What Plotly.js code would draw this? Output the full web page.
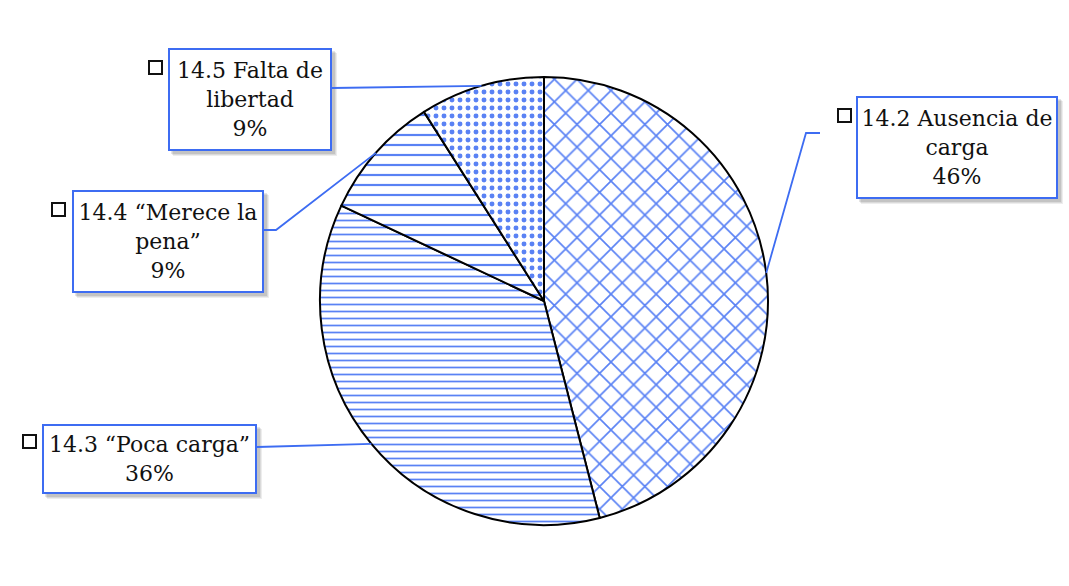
<!DOCTYPE html>
<html><head><meta charset="utf-8">
<script src="https://cdn.plot.ly/plotly-3.0.1.min.js"></script>
<style>html,body{margin:0;padding:0;background:#fff}</style>
</head><body>
<div id="chart" style="width:1069px;height:586px"></div>
<script>
const categories = ['14.2 Ausencia de<br>carga', '14.3 “Poca carga”', '14.4 “Merece la<br>pena”', '14.5 Falta de<br>libertad'];
const values = [46, 36, 9, 9];
const percentLabels = ['46%', '36%', '9%', '9%'];
const patternShapes = ['x', '-', '-', '.'];

const W = 1069, H = 586;
const px = x => x / W, py = y => 1 - y / H;
const BLUE = '#3d6cf2';

// pie geometry (layout)
const cx = 544, cy = 301, R = 224;
const domX = [px(cx - R), px(cx + R)];
const domY = [py(cy + R), py(cy - R)];

// anchor points on pie edge at slice mid-angles (from data)
const total = values.reduce((a, b) => a + b, 0);
let cum = 0;
const anchors = values.map(v => {
  const mid = (cum + v / 2) / total * 2 * Math.PI; cum += v;
  return [cx + R * Math.sin(mid), cy - R * Math.cos(mid)];
});

// label boxes (layout): [x0,y0,x1,y1]
const boxes = [[856, 96, 1058, 199], [42, 424, 257, 494], [72, 190, 264, 293], [168, 48, 332, 151]];
const keys = [[838, 109], [23, 435], [52, 203], [149, 61]];
// leader bends (layout)
const leaders = [
  a => [[a[0], a[1]], [806, 133], [820, 133]],
  a => [[257, 447], [a[0], a[1]]],
  a => [[264, 230], [276, 230], [a[0], a[1]]],
  a => [[332, 88], [a[0], a[1]]]
];

const shapes = [];
const annotations = [];
categories.forEach((c, i) => {
  const b = boxes[i];
  // soft shadow
  [[5, 0.07], [4, 0.08], [3, 0.1]].forEach(([o, a]) => {
    shapes.push({type: 'rect', xref: 'paper', yref: 'paper', layer: 'above',
      x0: px(b[0] + o), x1: px(b[2] + o), y0: py(b[3] + o), y1: py(b[1] + o),
      fillcolor: 'rgba(0,0,0,' + a + ')', line: {width: 0}});
  });
  const pts = leaders[i](anchors[i]);
  shapes.push({type: 'path', xref: 'paper', yref: 'paper', layer: 'above',
    path: pts.map((p, j) => (j ? 'L' : 'M') + px(p[0]) + ',' + py(p[1])).join(' '),
    line: {color: BLUE, width: 1.8}});
  const k = keys[i];
  shapes.push({type: 'rect', xref: 'paper', yref: 'paper', layer: 'above',
    x0: px(k[0]), x1: px(k[0] + 13), y0: py(k[1] + 13), y1: py(k[1]),
    fillcolor: '#ffffff', line: {color: '#111', width: 2}});
  annotations.push({
    xref: 'paper', yref: 'paper', x: px((b[0] + b[2]) / 2), y: py((b[1] + b[3]) / 2),
    xanchor: 'center', yanchor: 'middle', showarrow: false,
    text: c + '<br>' + percentLabels[i],
    width: b[2] - b[0] - 8, height: b[3] - b[1] - 8,
    bgcolor: '#ffffff', bordercolor: BLUE, borderwidth: 2, borderpad: 2,
    font: {family: 'DejaVu Serif', size: 22, color: '#111'}
  });
});

const trace = {
  type: 'pie', values: values, labels: categories,
  sort: false, direction: 'clockwise', rotation: 0,
  textinfo: 'none', hoverinfo: 'label+percent',
  domain: {x: domX, y: domY},
  marker: {
    colors: ['#ffffff', '#ffffff', '#ffffff', '#ffffff'],
    line: {color: '#000000', width: 2},
    pattern: {
      shape: patternShapes,
      fgcolor: BLUE, bgcolor: '#ffffff', fgopacity: 0.85,
      size: [16, 7, 10, 8], solidity: [0.2, 0.25, 0.22, 0.3], fillmode: 'overlay'
    }
  }
};

Plotly.newPlot('chart', [trace], {
  width: W, height: H, margin: {l: 0, r: 0, t: 0, b: 0},
  paper_bgcolor: '#ffffff', showlegend: false,
  shapes: shapes, annotations: annotations
}, {displayModeBar: false, staticPlot: true});
</script>
</body></html>
